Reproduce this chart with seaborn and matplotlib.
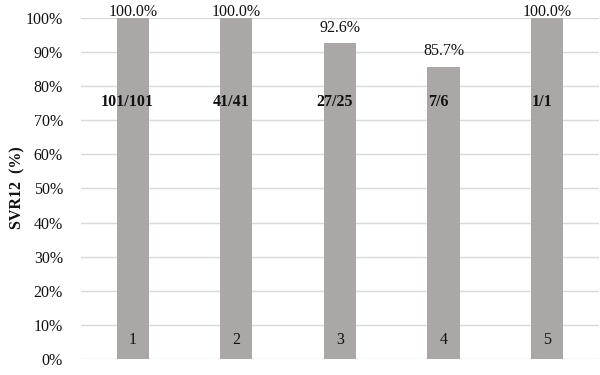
import matplotlib
matplotlib.use("Agg")
import matplotlib.pyplot as plt
import seaborn as sns
import pandas as pd
from matplotlib.ticker import PercentFormatter

groups = ["1", "2", "3", "4", "5"]
svr12 = [100.0, 100.0, 92.6, 85.7, 100.0]
fractions = ["101/101", "41/41", "27/25", "7/6", "1/1"]

df = pd.DataFrame({"group": groups, "svr12": svr12})

sns.set_theme(style="white")
plt.rcParams["font.family"] = ["Liberation Serif", "DejaVu Serif"]

fig = plt.figure(figsize=(6, 3.75), dpi=100)
ax = fig.add_axes([0.135, 0.043, 0.863, 0.909])
sns.barplot(data=df, x="group", y="svr12", color="#ABA7A6", saturation=1,
            width=0.31, linewidth=0, ax=ax, zorder=3)

ax.set_ylim(0, 100)
ax.set_xlim(-0.5, 4.5)
ax.set_yticks(range(0, 101, 10))
ax.yaxis.set_major_formatter(PercentFormatter(decimals=0))
ax.yaxis.grid(True, color="#D9D9D9", linewidth=1, zorder=0)
ax.set_axisbelow(True)
for s in ax.spines.values():
    s.set_visible(False)
ax.tick_params(axis="y", length=0, labelsize=11.5, labelcolor="#111111", pad=13)
ax.set_xticks([])
ax.set_xlabel("")
ax.set_ylabel("")
fig.text(17 / 600, 1 - 188 / 375, "SVR12  (%)", rotation=90, ha="center", va="center",
         fontsize=11.5, fontweight="bold", color="#111111")

for i, (v, f, g) in enumerate(zip(svr12, fractions, groups)):
    ax.text(i, min(v + 2.2, 99.3), f"{v:.1f}%", ha="center", va="bottom", fontsize=11.5,
            color="#111111", zorder=5, clip_on=False)
    ax.text(i - 0.05, 75.5, f, ha="center", va="center", fontsize=11.5, fontweight="bold",
            color="#111111", zorder=5)
    ax.text(i, 5.5, g, ha="center", va="center", fontsize=11.5, color="#111111", zorder=5)

fig.savefig("out.png", dpi=100)
